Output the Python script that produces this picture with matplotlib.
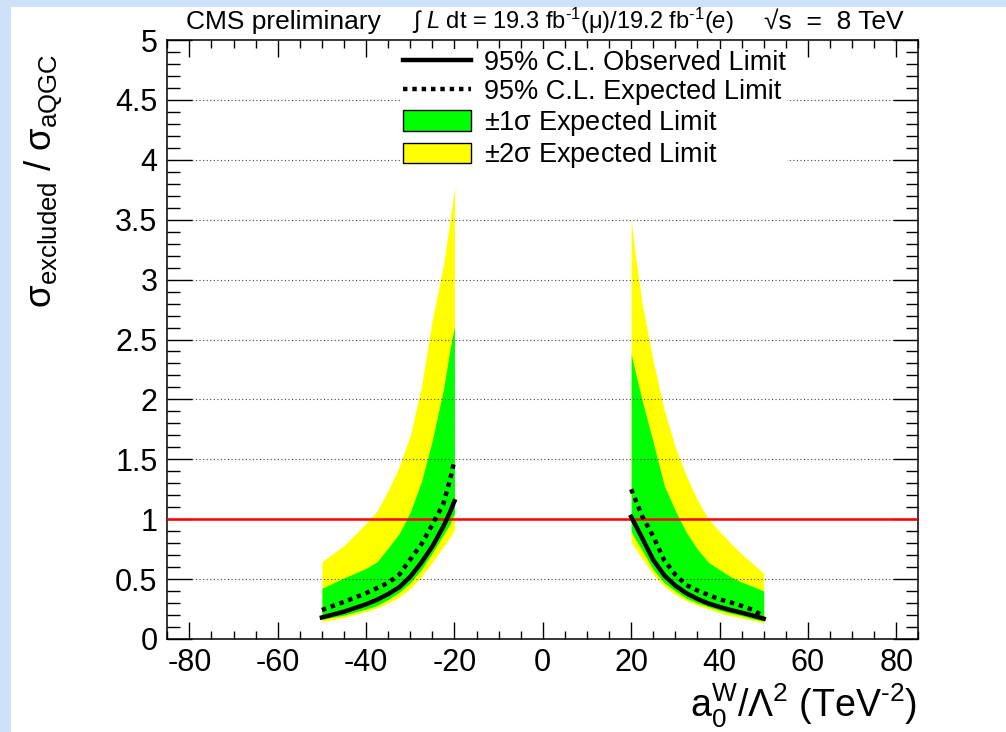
import numpy as np
import matplotlib
matplotlib.use("Agg")
import matplotlib.pyplot as plt
from matplotlib.lines import Line2D
from matplotlib.patches import Patch, Rectangle
from matplotlib.ticker import MultipleLocator

plt.rcParams['font.family'] = ['Liberation Sans', 'DejaVu Sans']
plt.rcParams['mathtext.fontset'] = 'custom'
plt.rcParams['mathtext.rm'] = 'Liberation Sans'
plt.rcParams['mathtext.it'] = 'Liberation Sans:italic'
plt.rcParams['mathtext.bf'] = 'Liberation Sans:bold'
plt.rcParams['mathtext.sf'] = 'Liberation Sans'
plt.rcParams['mathtext.default'] = 'regular'
plt.rcParams['axes.unicode_minus'] = False

# ---------------- data ----------------
x_left = [-50, -45, -40, -37.5, -35, -32.5, -30, -27.5, -25, -22.5, -21, -20]
yellow_hi_left = [0.645, 0.78, 0.966, 1.07, 1.24, 1.44, 1.70, 2.10, 2.67, 3.12, 3.50, 3.77]
green_hi_left = [0.423, 0.51, 0.59, 0.645, 0.76, 0.88, 1.06, 1.31, 1.66, 2.08, 2.42, 2.61]
green_lo_left = [0.165, 0.20, 0.25, 0.28, 0.33, 0.39, 0.47, 0.58, 0.72, 0.87, 0.96, 1.05]
yellow_lo_left = [0.145, 0.18, 0.23, 0.26, 0.30, 0.35, 0.42, 0.52, 0.64, 0.77, 0.85, 0.91]
expected_left = [0.242, 0.31, 0.383, 0.425, 0.469, 0.537, 0.665, 0.79, 0.955, 1.13, 1.33, 1.49]
observed_left = [0.18, 0.228, 0.29, 0.328, 0.375, 0.432, 0.52, 0.637, 0.773, 0.94, 1.06, 1.15]

x_right = [20, 21, 22.5, 25, 27.5, 30, 32.5, 35, 37.5, 40, 42.5, 45, 47.5, 50]
yellow_hi_right = [3.50, 3.19, 2.80, 2.32, 1.91, 1.60, 1.36, 1.16, 1.00, 0.90, 0.80, 0.71, 0.63, 0.55]
green_hi_right = [2.38, 2.22, 1.99, 1.64, 1.28, 1.07, 0.89, 0.75, 0.64, 0.58, 0.52, 0.475, 0.44, 0.40]
green_lo_right = [0.90, 0.83, 0.74, 0.58, 0.47, 0.40, 0.34, 0.30, 0.27, 0.24, 0.215, 0.195, 0.17, 0.15]
yellow_lo_right = [0.81, 0.75, 0.67, 0.54, 0.44, 0.37, 0.32, 0.28, 0.25, 0.22, 0.195, 0.175, 0.155, 0.136]
expected_right = [1.25, 1.16, 1.025, 0.856, 0.656, 0.537, 0.45, 0.405, 0.368, 0.331, 0.306, 0.277, 0.243, 0.19]
observed_right = [1.02, 0.95, 0.843, 0.66, 0.532, 0.446, 0.382, 0.335, 0.296, 0.268, 0.242, 0.22, 0.196, 0.17]

unity_level = 1.0
legend_labels = ['95% C.L. Observed Limit', '95% C.L. Expected Limit',
                 r'$\pm$1$\sigma$ Expected Limit', r'$\pm$2$\sigma$ Expected Limit']

# ---------------- figure ----------------
W, H = 1006, 732
fig = plt.figure(figsize=(W / 100, H / 100), dpi=100, facecolor='white')

# light blue slide border
fig.add_artist(Rectangle((0, 0), 11 / W, 1, transform=fig.transFigure,
                         facecolor='#cde2f9', edgecolor='none', zorder=0))
fig.add_artist(Rectangle((0, 1 - 7 / H), 1, 7 / H, transform=fig.transFigure,
                         facecolor='#cde2f9', edgecolor='none', zorder=0))

ax_l, ax_r, ax_t, ax_b = 167.3, 918.3, 40, 639
ax = fig.add_axes([ax_l / W, 1 - ax_b / H, (ax_r - ax_l) / W, (ax_b - ax_t) / H])
ax.set_xlim(-85, 85)
ax.set_ylim(0, 5)

YEL = '#ffff00'
GRN = '#00ff00'
for xs, ylo, yhi, glo, ghi in [(x_left, yellow_lo_left, yellow_hi_left, green_lo_left, green_hi_left),
                               (x_right, yellow_lo_right, yellow_hi_right, green_lo_right, green_hi_right)]:
    ax.fill_between(xs, ylo, yhi, color=YEL, lw=0, zorder=1)
    ax.fill_between(xs, glo, ghi, color=GRN, lw=0, zorder=1.2)

# grid (drawn above bands)
ax.set_axisbelow(False)
ax.yaxis.grid(True, which='major', color='#444444', lw=0.8, ls=(0, (1, 2.2)), zorder=2)
ax.xaxis.grid(False)

ax.axhline(unity_level, color='red', lw=1.8, zorder=3)

dotted = (0, (1.0, 1.1))
for xs, obs, exp in [(x_left, observed_left, expected_left), (x_right, observed_right, expected_right)]:
    ax.plot(xs, exp, color='black', lw=3.2, ls=dotted, dash_capstyle='butt', zorder=4)
    ax.plot(xs, obs, color='black', lw=3.2, zorder=4.5)

# ticks
ax.xaxis.set_major_locator(MultipleLocator(20))
ax.xaxis.set_minor_locator(MultipleLocator(5))
ax.yaxis.set_major_locator(MultipleLocator(0.5))
ax.yaxis.set_minor_locator(MultipleLocator(0.1))
ax.tick_params(axis='both', which='both', direction='in', top=True, right=True,
               labelsize=22, width=1.0, colors='black')
ax.tick_params(axis='x', which='major', length=12.5, pad=6.5)
ax.tick_params(axis='x', which='minor', length=6)
ax.tick_params(axis='y', which='major', length=18, pad=7)
ax.tick_params(axis='y', which='minor', length=9)
ax.set_yticks([0, 0.5, 1, 1.5, 2, 2.5, 3, 3.5, 4, 4.5, 5])
ax.set_yticklabels(['0', '0.5', '1', '1.5', '2', '2.5', '3', '3.5', '4', '4.5', '5'])
for s in ax.spines.values():
    s.set_linewidth(1.1)

# legend
handles = [Line2D([], [], color='black', lw=3.2),
           Line2D([], [], color='black', lw=3.2, ls=dotted, dash_capstyle='butt'),
           Patch(facecolor=GRN, edgecolor='black', lw=1.0),
           Patch(facecolor=YEL, edgecolor='black', lw=1.0)]
leg = ax.legend(handles, legend_labels, loc='upper left',
                bbox_to_anchor=((401.5 - ax_l) / (ax_r - ax_l), (ax_b - 49) / (ax_b - ax_t)),
                fontsize=19.5, frameon=True, fancybox=False, framealpha=1.0,
                facecolor='white', edgecolor='none', borderpad=0.05, borderaxespad=0,
                handlelength=2.5, handleheight=0.8, handletextpad=0.5, labelspacing=0.1)

# axis titles
fig.text(917 / W, 1 - 717 / H, r'$a_{0}^{W}/\Lambda^{2}$ (TeV$^{\text{-2}}$)', fontsize=27,
         ha='right', va='baseline')
fig.text(44 / W, 1 - 54 / H, r'$\sigma_{excluded}$ / $\sigma_{aQGC}$', fontsize=26.5,
         rotation=90, ha='center', va='top')

# header
fig.text(186 / W, 1 - 29 / H, 'CMS preliminary', fontsize=19, ha='left', va='baseline')
fig.text(412 / W, 1 - 29 / H,
         r'∫ $\mathit{L}$ dt = 19.3 fb$^{\text{-1}}$($\mu$)/19.2 fb$^{\text{-1}}$($\mathit{e}$)',
         fontsize=17, ha='left', va='baseline')
fig.text(764 / W, 1 - 29 / H, '√s  =  8 TeV', fontsize=19, ha='left', va='baseline')

fig.savefig('out.png', dpi=100, facecolor=fig.get_facecolor())
